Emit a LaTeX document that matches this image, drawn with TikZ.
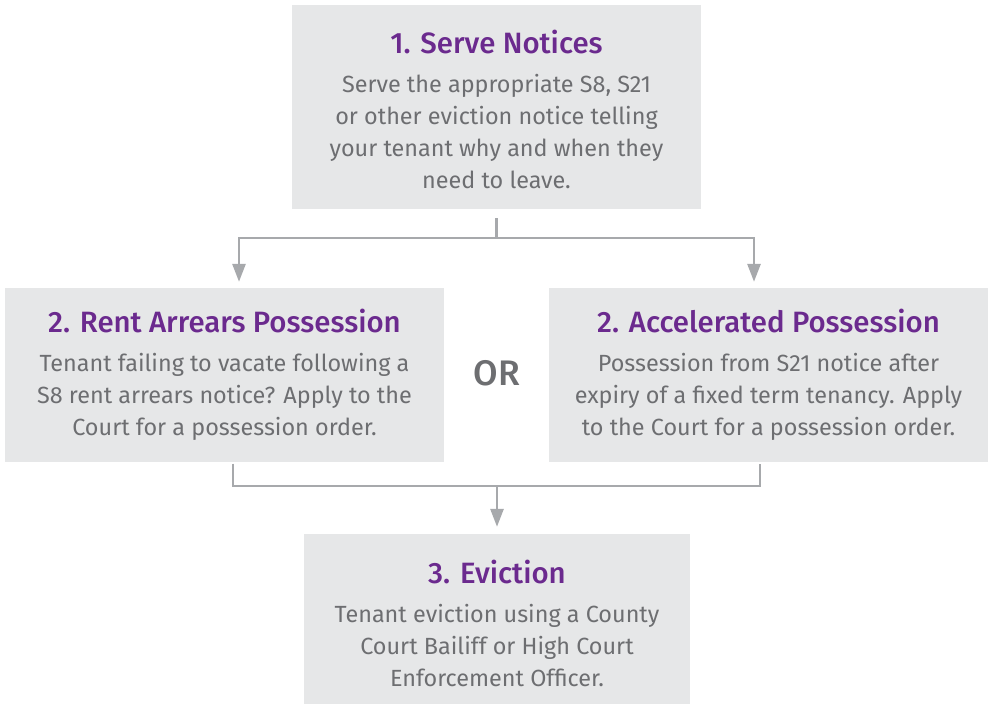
\documentclass[tikz,border=0pt]{standalone}
\usepackage{fontspec}
\setmainfont{Fira Sans}
\newfontfamily\titlefont{Fira Sans Medium}
\usetikzlibrary{arrows.meta}
\definecolor{boxfill}{HTML}{E6E7E8}
\definecolor{ttl}{HTML}{6B2A8E}
\definecolor{bodytext}{HTML}{6D6E71}
\definecolor{linegray}{HTML}{A7A9AC}
\newcommand{\bodylines}[1]{\begin{tabular}[t]{@{}c@{}}#1\end{tabular}}
\tikzset{
  box/.style={fill=boxfill, draw=none, inner sep=0pt},
  ttlnode/.style={anchor=base, inner sep=0pt, text=ttl, font=\titlefont\fontsize{29.4}{34}\selectfont},
  bodynode/.style={anchor=base, inner sep=0pt, text=bodytext, font=\fontsize{23.4}{32}\selectfont},
  ornode/.style={anchor=base, inner sep=0pt, text=bodytext, font=\titlefont\fontsize{35.5}{40}\selectfont},
  conn/.style={draw=linegray, line width=2.8pt},
  arr/.style={conn, -{Triangle[width=13pt,length=18pt]}},
}
\begin{document}
\begin{tikzpicture}[x=1pt,y=-1pt]
\useasboundingbox (0,0) rectangle (992,704);
% boxes
\node[box, minimum width=409pt, minimum height=204pt] (b1) at (496.5,107) {};
\node[box, minimum width=439pt, minimum height=174pt] (b2) at (224.5,375) {};
\node[box, minimum width=439pt, minimum height=174pt] (b3) at (768.5,375) {};
\node[box, minimum width=386pt, minimum height=170pt] (b4) at (497,619) {};
% texts
\node[ttlnode] (t1) at (496.5,53) {1. Serve Notices};
\node[bodynode] (d1) at (496.5,92) {\bodylines{Serve the appropriate S8, S21\\or other eviction notice telling\\your tenant why and when they\\need to leave.}};
\node[ttlnode] (t2) at (224.5,332) {2. Rent Arrears Possession};
\node[bodynode] (d2) at (224.5,371) {\bodylines{Tenant failing to vacate following a\\S8 rent arrears notice? Apply to the\\Court for a possession order.}};
\node[ttlnode] (t3) at (768.5,332) {2. Accelerated Possession};
\node[bodynode] (d3) at (768.5,371) {\bodylines{Possession from S21 notice after\\expiry of a fixed term tenancy. Apply\\to the Court for a possession order.}};
\node[ornode] (or) at (497,385) {OR};
\node[ttlnode] (t4) at (497,583) {3. Eviction};
\node[bodynode] (d4) at (497,622) {\bodylines{Tenant eviction using a County\\Court Bailiff or High Court\\Enforcement Officer.}};
% connectors
\coordinate (s1) at ([yshift=-9pt]b1.south);
\coordinate (j1) at (s1 |- 0,238);
\draw[conn] (s1) -- (j1);
\draw[arr] (j1) -| ([xshift=14.5pt,yshift=6pt]b2.north);
\draw[arr] (j1) -| ([xshift=-14.5pt,yshift=6pt]b3.north);
\coordinate (s2) at ([xshift=8.5pt,yshift=-1.5pt]b2.south);
\coordinate (s3) at ([xshift=-8.5pt,yshift=-1.5pt]b3.south);
\coordinate (j2) at (b4.north |- 0,486);
\draw[conn] (s2) |- (j2) -| (s3);
\draw[arr] (j2) -- ([yshift=7pt]b4.north);
\end{tikzpicture}
\end{document}
